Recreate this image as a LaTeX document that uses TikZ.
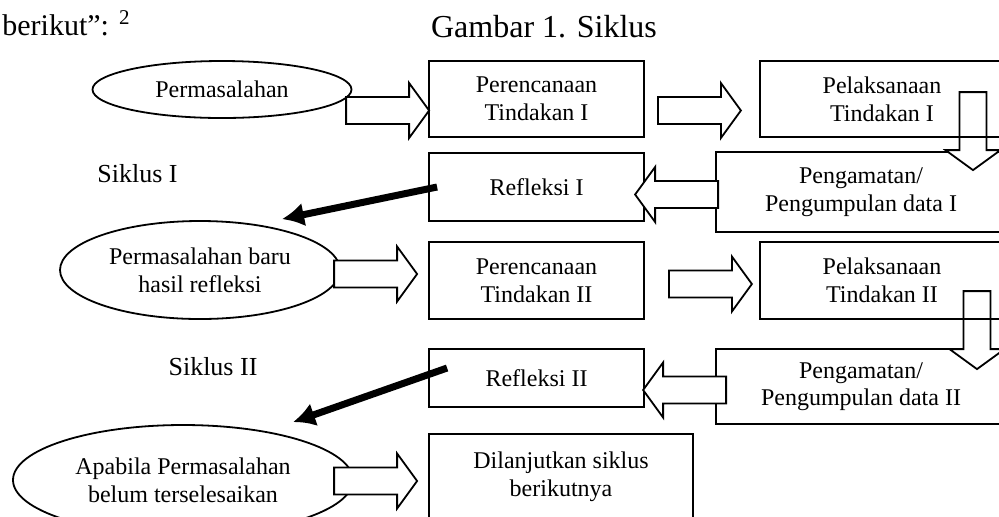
\documentclass[tikz,border=0pt]{standalone}
\usepackage{fontspec}
\setmainfont{Liberation Serif}
\usetikzlibrary{calc,shapes.geometric,arrows.meta}
\tikzset{>=latex}
\tikzstyle{box}=[draw,line width=.9pt,inner sep=0,align=center,font=\fontsize{12}{13.8}\selectfont]
\tikzstyle{oval}=[box,ellipse]
\tikzstyle{siklus}=[anchor=base,font=\fontsize{13}{15}\selectfont]
\tikzstyle{blockarrow}=[line width=.9pt,draw=black,fill=white,line join=miter]
\tikzstyle{pointer}=[line width=3.5pt,-{Latex[length=11pt,width=12pt]}]
\def\blockarrow#1#2#3{% tail, direction, length
  \draw[blockarrow,shift={#1},rotate=#2]
    (0,-13.5) -- (#3-20,-13.5) -- (#3-20,-27.5) -- (#3,0) --
    (#3-20,27.5) -- (#3-20,13.5) -- (0,13.5) -- cycle;
}

\begin{document}
\begin{tikzpicture}[x=.5pt,y=-.5pt]
  \useasboundingbox (0,0) rectangle (999,516);
  \clip (0,0) rectangle (999,516);

  % HEADING
  \node[anchor=base west,inner sep=0,font=\fontsize{15}{17}\selectfont] (berikut) at (2,35) {berikut”: \textsuperscript{2}};
  \node[anchor=base,inner sep=0,font=\fontsize{16}{18}\selectfont] (judul) at (544,37) {Gambar 1. Siklus};

  % CYCLE I
  \node[oval,minimum width=129.5pt,minimum height=28.5pt] (masalah1) at (222,89.5) {Permasalahan};
  \node[box,minimum width=107.5pt,minimum height=38pt] (rencana1) at (536.5,99) {Perencanaan\\Tindakan I};
  \node[box,minimum width=145pt,minimum height=40pt] (amat1) at (861,192) {Pengamatan/\\Pengumpulan data I};
  \node[box,minimum width=107.5pt,minimum height=34pt] (refleksi1) at (536.5,187) {Refleksi I};
  \node[siklus] (siklus1) at (137.5,182) {Siklus I};

  % CYCLE II
  \node[oval,minimum width=140pt,minimum height=49pt] (masalah2) at (200,270) {Permasalahan baru\\hasil refleksi};
  \node[box,minimum width=107.5pt,minimum height=38.5pt] (rencana2) at (536.5,280.5) {Perencanaan\\Tindakan II};
  \node[box,minimum width=145pt,minimum height=37.5pt] (amat2) at (861,386.5) {Pengamatan/\\Pengumpulan data II};
  \node[box,minimum width=107.5pt,minimum height=29pt] (refleksi2) at (536.5,378) {Refleksi II};
  \node[siklus] (siklus2) at (213,375) {Siklus II};

  % NEXT
  \node[oval,minimum width=170pt,minimum height=55pt] (masalah3) at (183,480) {Apabila Permasalahan\\belum terselesaikan};
  \node[box,minimum width=132pt,minimum height=43pt] (lanjut) at (561,477) {Dilanjutkan siklus\\berikutnya};

  % BLOCK ARROWS
  \blockarrow{($(rencana1.west)+(-82,11.5)$)}{0}{83}
  \blockarrow{($(rencana1.east)+(13,11.5)$)}{0}{83}
  \blockarrow{($(amat1.north)+(112,-59)$)}{-90}{78}
  \blockarrow{($(amat1.west)+(3,2.5)$)}{180}{83}
  \blockarrow{($(rencana2.west)+(-94,-6.5)$)}{0}{83}
  \blockarrow{($(rencana2.east)+(24,3.5)$)}{0}{83}
  \blockarrow{($(amat2.north)+(116,-57)$)}{-90}{78}
  \blockarrow{($(amat2.west)+(11,3.5)$)}{180}{83}
  \blockarrow{($(lanjut.west)+(-94,4)$)}{0}{83}

  % over the arrows
  \node[box,minimum width=122pt,minimum height=38pt] (laksana1) at (882,99) {Pelaksanaan\\Tindakan I};
  \node[box,minimum width=122pt,minimum height=38.5pt] (laksana2) at (882,280.5) {Pelaksanaan\\Tindakan II};

  % BACK TO NEW PROBLEM
  \draw[pointer] ($(refleksi1.west)+(9,0)$) -- ($(masalah2.north)+(82,-1)$);
  \draw[pointer] ($(refleksi2.west)+(19,-10)$) -- ($(masalah3.north)+(110,-2)$);
\end{tikzpicture}
\end{document}
